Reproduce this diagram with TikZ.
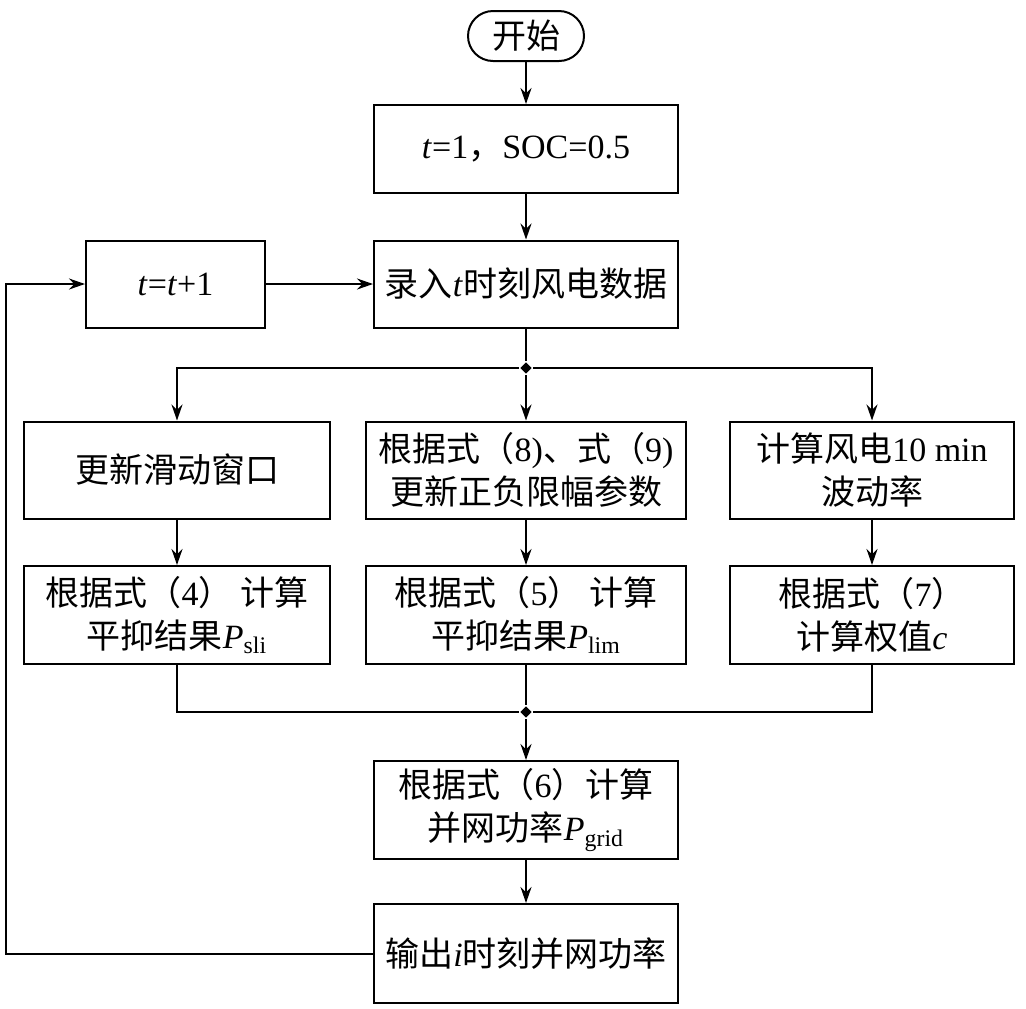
\documentclass[tikz,border=0pt]{standalone}
\usepackage{fontspec}
\setmainfont{Liberation Serif}
\newfontfamily\cjk{Noto Sans CJK SC}
\newcommand{\zh}[1]{{\cjk #1}}
\usetikzlibrary{positioning,shapes.misc,shapes.geometric,arrows.meta}

\tikzset{
  box/.style={draw, line width=1pt, align=center, inner sep=0pt,
    font=\fontsize{17}{21.5}\selectfont},
  term/.style={box, rounded rectangle, minimum width=58pt, minimum height=25pt},
  dot/.style={diamond, fill=black, inner sep=0pt, minimum size=6pt},
}

\begin{document}
\begin{tikzpicture}[x=0.5pt, y=-0.5pt, line width=1pt,
    >={Stealth[length=8pt,width=5.5pt]}]
    \useasboundingbox (0,0) rectangle (1026,1008);
    % 主流程
    \node[term] (start) at (526,36) {\zh{开始}};
    \node[box, minimum width=152pt, minimum height=44pt] (init) at (526,149)
        {\textit{t}=1\zh{，}SOC=0.5};
    \node[box, minimum width=152pt, minimum height=43.5pt] (input) at (526,284)
        {\zh{录入}\textit{t}\zh{时刻风电数据}};
    \node[box, minimum width=89.5pt, minimum height=43.5pt] (incr) at (175.5,284)
        {\textit{t}=\textit{t}+1};
    % 三条支路
    \node[box, minimum width=153pt, minimum height=48.5pt] (win) at (177,470)
        {\zh{更新滑动窗口}};
    \node[box, minimum width=160pt, minimum height=48.5pt] (lim) at (526,470)
        {\zh{根据式（}8)\zh{、式（}9)\\\zh{更新正负限幅参数}};
    \node[box, minimum width=142pt, minimum height=48.5pt] (rate) at (872,470)
        {\zh{计算风电}10 min\\\zh{波动率}};
    \node[box, minimum width=153pt, minimum height=49pt] (psli) at (177,615)
        {\zh{根据式（}4\zh{） 计算}\\\zh{平抑结果}\textit{P}\textsubscript{sli}};
    \node[box, minimum width=160pt, minimum height=49pt] (plim) at (526,615)
        {\zh{根据式（}5\zh{） 计算}\\\zh{平抑结果}\textit{P}\textsubscript{lim}};
    \node[box, minimum width=142pt, minimum height=49pt] (wgt) at (872,615)
        {\zh{根据式（}7\zh{）}\\\zh{计算权值}\textit{c}};
    % 汇合
    \node[box, minimum width=152pt, minimum height=49pt] (grid) at (526,810)
        {\zh{根据式（}6\zh{）计算}\\\zh{并网功率}\textit{P}\textsubscript{grid}};
    \node[box, minimum width=152pt, minimum height=49.5pt] (output) at (526,953.5)
        {\zh{输出}\textit{i}\zh{时刻并网功率}};
    \node[dot] (split) at (526,368) {};
    \node[dot] (merge) at (526,712) {};
    \coordinate (back) at (6,0);

    % 连线
    \draw[->] (start) -- (init);
    \draw[->] (init) -- (input);
    \draw[->] (incr) -- (input);
    \draw (input) -- (split);
    \draw[->] (split) -| (win.north);
    \draw[->] (split) -- (lim);
    \draw[->] (split) -| (rate.north);
    \draw[->] (win) -- (psli);
    \draw[->] (lim) -- (plim);
    \draw[->] (rate) -- (wgt);
    \draw (psli.south) |- (merge);
    \draw (plim) -- (merge);
    \draw (wgt.south) |- (merge);
    \draw[->] (merge) -- (grid);
    \draw[->] (grid) -- (output);
    \draw[->] (output.west) -- (output.west -| back) |- (incr.west);
\end{tikzpicture}
\end{document}
